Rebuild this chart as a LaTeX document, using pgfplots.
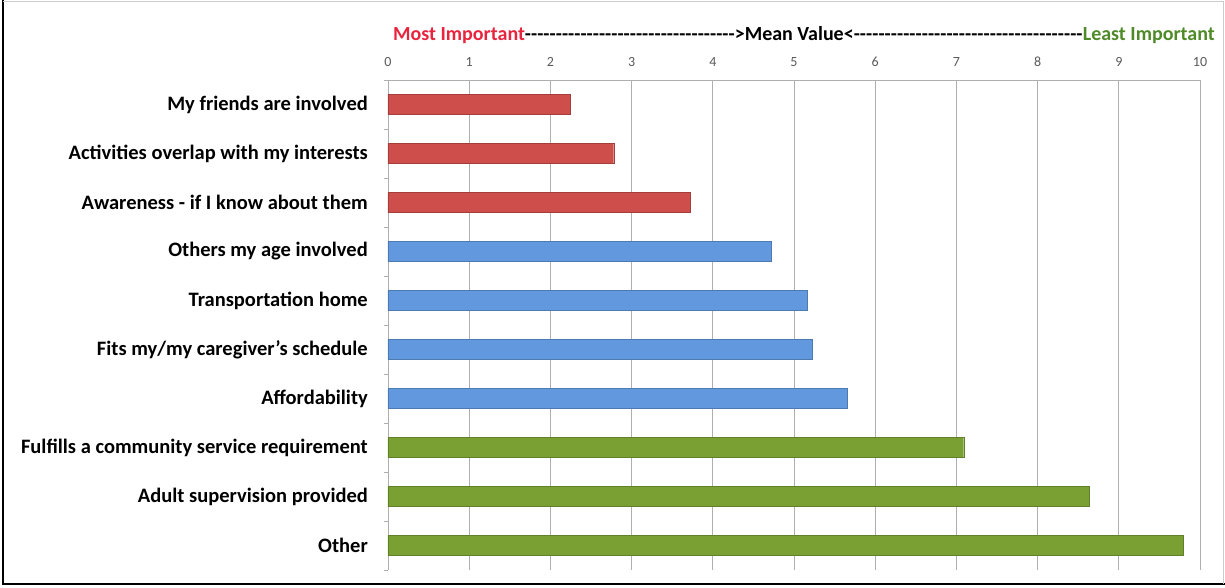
\documentclass[border=0pt]{standalone}
\usepackage{pgfplots}
\pgfplotsset{compat=1.18}
\usepackage{fontspec}
\setmainfont{Carlito}

\definecolor{barred}{RGB}{205,78,74}
\definecolor{barblue}{RGB}{98,152,222}
\definecolor{bargreen}{RGB}{122,160,52}
\definecolor{titlered}{RGB}{232,36,62}
\definecolor{titlegreen}{RGB}{78,138,40}
\definecolor{gridgray}{RGB}{175,175,175}

\begin{document}
\begin{tikzpicture}[x=1pt,y=1pt]
% picture frame (image is 1225 x 587)
\path[use as bounding box] (-388,-17) rectangle (837,570);
\draw[black,line width=1.2pt] (-385,570) -- (-385,-14) -- (837,-14);
\draw[gray!40,line width=0.6pt] (-385,569) -- (835,569) -- (835,-14);

\begin{axis}[
    at={(0,0)}, anchor=south west,
    scale only axis,
    width=812pt, height=490pt,
    xbar, bar width=20pt,
    xmin=0, xmax=10,
    ymin=-0.5, ymax=9.5,
    y dir=reverse,
    axis x line*=top,
    axis y line*=left,
    axis line style={gridgray},
    xtick={0,1,...,10},
    xticklabel pos=right,
    xmajorgrids=true,
    grid style={gridgray,line width=0.7pt},
    ytick={0,...,9},
    yticklabels={My friends are involved,
                 Activities overlap with my interests,
                 Awareness - if I know about them,
                 Others my age involved,
                 Transportation home,
                 Fits my/my caregiver's schedule,
                 Affordability,
                 Fulfills a community service requirement,
                 Adult supervision provided,
                 Other},
    minor ytick={-0.5,0.5,...,9.5},
    major tick length=0pt,
    minor tick length=4pt,
    tick align=outside,
    tick style={gridgray},
    /pgf/number format/assume math mode=true,
    xticklabel style={font=\fontsize{14}{16}\selectfont, text=black!65, yshift=10pt},
    yticklabel style={font=\fontsize{20.5}{22}\selectfont\bfseries, anchor=east,
                      inner sep=0pt, xshift=-20pt},
    clip=false,
]
\addplot[bar shift=0pt, fill=barred, draw=barred!80!black]
    coordinates {(2.25,0)(2.78,1)(3.72,2)};
\addplot[bar shift=0pt, fill=barblue, draw=barblue!80!black]
    coordinates {(4.72,3)(5.16,4)(5.22,5)(5.66,6)};
\addplot[bar shift=0pt, fill=bargreen, draw=bargreen!80!black]
    coordinates {(7.09,7)(8.64,8)(9.79,9)};
\end{axis}

% title line above the axis
\node[anchor=west, inner sep=0pt, font=\fontsize{20}{22}\selectfont\bfseries]
  at (5,535) {\textcolor{titlered}{Most Important}\xleaders\hbox{-}\hskip 210pt\relax >Mean Value<\xleaders\hbox{-}\hskip 229pt\relax \textcolor{titlegreen}{Least Important}};
\end{tikzpicture}
\end{document}
